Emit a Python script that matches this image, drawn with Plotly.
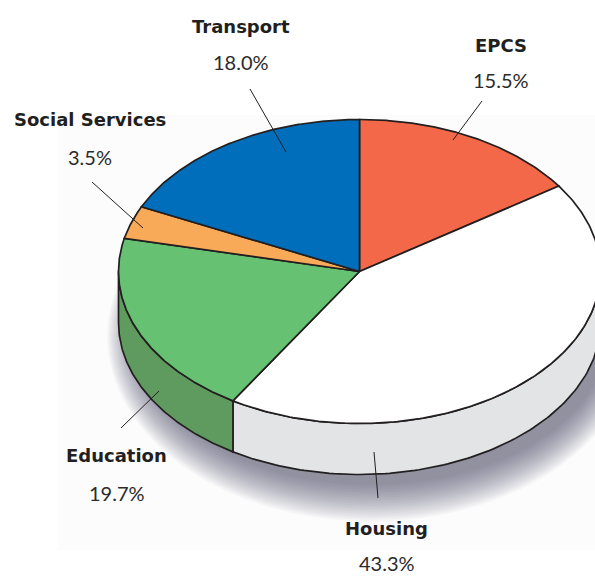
import numpy as np
import plotly.graph_objects as go

# ---- data -------------------------------------------------------------
categories = ["EPCS", "Housing", "Education", "Social Services", "Transport"]
shares = [15.5, 43.3, 19.7, 3.5, 18.0]

# ---- styling ----------------------------------------------------------
top_colors = ["#F26849", "#FFFFFF", "#66C172", "#F9AA58", "#006EBA"]
side_colors = ["#C9533A", "#E3E4E6", "#5F9B5F", "#C9853F", "#00589A"]
outline = "#231F20"

W, H = 595, 577
cx, cy = 359.5, 271.5      # pie centre (pixels)
rx, ry = 241.0, 152.0      # top-face radii
depth = 51.0               # thickness of the disc

# label anchor points (name line / percent line) and leader lines
label_pos = {
    "EPCS": (501, 45, 80),
    "Housing": (386.5, 528, 563),
    "Education": (116.5, 455, 493),
    "Social Services": (89.5, 119, 157),
    "Transport": (241, 26, 62),
}
leaders = {
    "EPCS": ((482, 101), (453, 140)),
    "Housing": ((374, 452), (378, 498)),
    "Education": ((121, 428), (159, 391)),
    "Social Services": ((92, 182), (143, 228)),
    "Transport": ((250, 89), (286, 152)),
}


def ell(theta_deg, dy=0.0, gx=0.0, gy=0.0, ox=0.0):
    t = np.radians(theta_deg)
    return (cx + ox + (rx + gx) * np.sin(t),
            cy + dy - (ry + gy) * np.cos(t))


fig = go.Figure()

# faint backdrop panel
fig.add_shape(type="rect", x0=58, x1=W, y0=115, y1=550,
              fillcolor="#FCFCFC", line_width=0, layer="below")

# soft drop shadow under the disc, built from stacked translucent ellipses
tt = np.linspace(0, 360, 241)
for k in range(24):
    g = k * 1.7
    sx, sy = ell(tt, dy=depth + 14, gx=g * 0.75 - 6, gy=g * 0.95 - 4, ox=12)
    fig.add_trace(go.Scatter(x=sx, y=sy, mode="lines", fill="toself",
                             fillcolor="rgba(60,60,85,0.032)",
                             line=dict(width=0), hoverinfo="skip",
                             showlegend=False))

# slice angles, clockwise from 12 o'clock
total = sum(shares)
bounds = np.concatenate([[0], np.cumsum(shares)]) / total * 360.0

# side walls (front half of the disc only: 90..270 degrees)
for i, name in enumerate(categories):
    a0, a1 = max(bounds[i], 90.0), min(bounds[i + 1], 270.0)
    if a1 <= a0:
        continue
    th = np.linspace(a0, a1, 120)
    ux, uy = ell(th)
    lx, ly = ell(th[::-1], dy=depth)
    px = np.concatenate([ux, lx, ux[:1]])
    py = np.concatenate([uy, ly, uy[:1]])
    fig.add_trace(go.Scatter(x=px, y=py, mode="lines", fill="toself",
                             fillcolor=side_colors[i],
                             line=dict(color=outline, width=1.7),
                             hoverinfo="skip", showlegend=False))

# top face wedges
for i, name in enumerate(categories):
    th = np.linspace(bounds[i], bounds[i + 1], 200)
    ex, ey = ell(th)
    px = np.concatenate([[cx], ex, [cx]])
    py = np.concatenate([[cy], ey, [cy]])
    fig.add_trace(go.Scatter(x=px, y=py, mode="lines", fill="toself",
                             fillcolor=top_colors[i],
                             line=dict(color=outline, width=1.7),
                             hoverinfo="skip", showlegend=False))

# labels and leader lines
for name, val in zip(categories, shares):
    x, yn, yp = label_pos[name]
    fig.add_annotation(x=x, y=yn, text=f"<b>{name}</b>", showarrow=False,
                       font=dict(family="DejaVu Sans", size=18, color=outline),
                       xanchor="center", yanchor="middle")
    fig.add_annotation(x=x, y=yp, text=f"{val:.1f}%", showarrow=False,
                       font=dict(family="Lato", size=20, color="#2b2b2b"),
                       xanchor="center", yanchor="middle")
    (x0, y0), (x1, y1) = leaders[name]
    fig.add_shape(type="line", x0=x0, y0=y0, x1=x1, y1=y1,
                  line=dict(color=outline, width=1))

fig.update_xaxes(range=[0, W], visible=False, fixedrange=True)
fig.update_yaxes(range=[H, 0], visible=False, fixedrange=True)
fig.update_layout(width=W, height=H, margin=dict(l=0, r=0, t=0, b=0),
                  paper_bgcolor="white", plot_bgcolor="white",
                  showlegend=False)

fig.write_html("out.html")
